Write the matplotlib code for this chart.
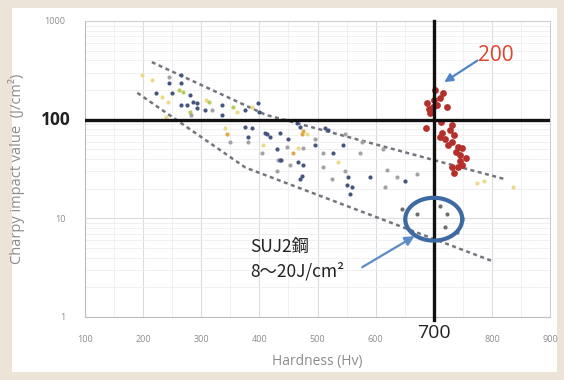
import numpy as np
import matplotlib
matplotlib.use("Agg")
import matplotlib.pyplot as plt
from matplotlib.patches import Rectangle
from matplotlib.ticker import FixedLocator, NullFormatter, MultipleLocator

plt.rcParams['font.family'] = ['Open Sans', 'DejaVu Sans']

# ---------------- data (Hardness Hv, Charpy J/cm2) ----------------
navy_hv = [245, 266, 266, 223, 250, 280, 285, 292, 276, 266, 293, 306, 335, 375, 397, 400,
           335, 375, 380, 388, 409, 413, 418, 435, 464, 470, 513, 518, 430, 449, 435, 438,
           495, 527, 544, 466, 475, 473, 470, 552, 551, 559, 556, 590, 651]
navy_cv = [236, 285, 236, 187, 187, 179, 152, 148, 142, 142, 132, 126, 142, 126, 148, 120,
           112, 85, 67, 83, 74, 71, 67, 74, 93, 85, 83, 79, 50, 63, 39, 39,
           56, 46, 56, 37, 35, 27, 25, 26, 22, 20.6, 17.5, 26, 24]

grey_hv = [245, 319, 283, 349, 380, 547, 447, 475, 495, 509, 573, 577, 613, 452, 509, 547,
           525, 620, 616, 432, 430, 404, 637, 672]
grey_cv = [272, 126, 112, 60, 60, 71, 53, 52, 63, 46, 46, 59, 50, 35, 33, 30,
           25, 31, 20.6, 39, 30, 46, 26, 28]

yellow_hv = [198, 216, 233, 242, 309, 361, 387, 240, 340, 482, 406, 466, 535, 775, 786, 836]
yellow_cv = [285, 253, 171, 152, 159, 120, 135, 107, 83, 71, 56, 52, 37, 23, 24, 21]

orange_hv = [344, 473, 475, 457]
orange_cv = [71, 71, 76, 46]

green_hv = [262, 268, 314, 280, 354]
green_cv = [201, 192, 152, 120, 135]

suj2_hv = [672, 711, 723, 720, 663, 646, 740]
suj2_cv = [11, 13.2, 11, 8.1, 7.2, 12.3, 7.2]

red_hv = [703, 716, 711, 689, 698, 694, 723, 686, 732, 715, 711, 720, 732, 725, 741,
          749, 755, 746, 732, 741, 734, 749, 700, 705, 692, 713, 728, 738, 745, 735]
red_cv = [200, 187, 167, 148, 135, 118, 135, 83, 89, 74, 66, 63, 60, 56, 53,
          52, 41, 44, 33, 33.5, 29, 35, 160, 140, 128, 95, 78, 47, 38, 70]

upper_hv = [215, 411, 824]
upper_cv = [383, 112, 24.8]
lower_hv = [190, 376, 800]
lower_cv = [187, 32.7, 3.7]

x_ticks = [100, 200, 300, 400, 500, 600, 700, 800, 900]
y_ticks = [1, 10, 100, 1000]

ell_center = (700, 9.8)
ell_halfwidth = 49      # Hv
ell_halfheight = 0.217  # decades

# ---------------- figure ----------------
fig = plt.figure(figsize=(5.64, 3.8), dpi=100, facecolor='#ece4d6')
fig.patches.append(Rectangle((12 / 564, 1 - 372 / 380), (557 - 12) / 564, (372 - 8) / 380,
                             transform=fig.transFigure, facecolor='white', edgecolor='none',
                             zorder=-10))
ax = fig.add_axes([85 / 564, 1 - 317 / 380, (550 - 85) / 564, (317 - 21) / 380])
ax.set_facecolor('white')
ax.set_yscale('log')
ax.set_xlim(100, 900)
ax.set_ylim(1, 1000)

ax.xaxis.set_major_locator(FixedLocator(x_ticks))
ax.xaxis.set_minor_locator(MultipleLocator(50))
ax.yaxis.set_major_locator(FixedLocator(y_ticks))
ax.yaxis.set_minor_locator(FixedLocator([m * d for d in [1, 10, 100] for m in range(2, 10)]))
ax.yaxis.set_minor_formatter(NullFormatter())

ax.grid(True, which='major', color='#dcdcdc', lw=0.8)
ax.grid(True, which='minor', color='#eeeeee', lw=0.6)
ax.set_axisbelow(True)
for s in ax.spines.values():
    s.set_color('#d0d0d0')
    s.set_linewidth(0.8)
ax.spines['bottom'].set_color('#bdbdbd')
ax.spines['left'].set_color('#bdbdbd')

ax.set_xticklabels(['' if v == 700 else str(v) for v in x_ticks])
ax.set_yticklabels(['' if v == 100 else str(v) for v in y_ticks])
ax.tick_params(axis='both', which='both', length=0, labelsize=6.5, labelcolor='#8c8c8c')
ax.tick_params(axis='x', pad=13)
ax.tick_params(axis='y', pad=14)

ax.set_xlabel('Hardness (Hv)', fontsize=10, color='#8c8c8c')
ax.xaxis.set_label_coords(0.5, -0.125)
ax.set_ylabel('Charpy impact value  (J/cm²)', fontsize=10.5, color='#8c8c8c')
ax.yaxis.set_label_coords(-0.128, 0.5)

# boundary dashed lines
dash = (0, (1.6, 1.4))
ax.plot(upper_hv, upper_cv, color='#72767e', lw=1.8, ls=dash, zorder=3)
ax.plot(lower_hv, lower_cv, color='#72767e', lw=1.8, ls=dash, zorder=3)

# scatter data
ax.scatter(yellow_hv, yellow_cv, s=9, color='#ecd98a', zorder=4, lw=0)
ax.scatter(orange_hv, orange_cv, s=9, color='#e2a84a', zorder=4, lw=0)
ax.scatter(green_hv, green_cv, s=9, color='#b8cb5c', zorder=4, lw=0)
ax.scatter(grey_hv, grey_cv, s=9, color='#a3a3a3', zorder=4, lw=0)
ax.scatter(navy_hv, navy_cv, s=9, color='#44557f', zorder=4, lw=0)
ax.scatter(suj2_hv, suj2_cv, s=9, color='#6e6e6e', zorder=4, lw=0)
ax.scatter(red_hv, red_cv, s=24, color='#b5302c', zorder=5, lw=0)

# thick reference lines
ax.axhline(100, color='#111111', lw=2.4, zorder=6)
ax.axvline(700, color='#111111', lw=2.4, zorder=6, ymin=-0.01, clip_on=False)

# ellipse around SUJ2 data
t = np.linspace(0, 2 * np.pi, 200)
ex = ell_center[0] + ell_halfwidth * np.cos(t)
ey = 10 ** (np.log10(ell_center[1]) + ell_halfheight * np.sin(t))
ax.plot(ex, ey, color='#3d6aa2', lw=3, zorder=7)

# big labels replacing 100 / 700 ticks
ax.text(-0.063, 100, '100', transform=ax.get_yaxis_transform(), ha='center', va='center',
        fontsize=12.5, fontweight='bold', color='#222222')
ax.text(700, -0.055, '700', transform=ax.get_xaxis_transform(), ha='center', va='center',
        fontsize=14, color='#222222')

# "200" annotation
ax.annotate('200', xy=(718, 240), xytext=(806, 450), fontsize=15, color='#e0442a',
            ha='center', va='center',
            arrowprops=dict(arrowstyle='-|>', color='#4f86c6', lw=1.6,
                            shrinkA=0, shrinkB=0, mutation_scale=12,
                            patchA=None, relpos=(0.0, 0.25)))

# SUJ2 annotation
ax.text(385, 5.1, 'SUJ2鋼', fontsize=12.5, color='#222222', ha='left', va='center',
        family=['Noto Sans CJK JP', 'DejaVu Sans'])
ax.text(385, 2.9, '8～20J/cm²', fontsize=12.5, color='#222222', ha='left', va='center',
        family=['Noto Sans CJK JP', 'DejaVu Sans'])
ax.annotate('', xy=(667, 6.6), xytext=(577, 3.2),
            arrowprops=dict(arrowstyle='-|>', color='#5b8cc8', lw=1.6,
                            shrinkA=0, shrinkB=0, mutation_scale=14))

fig.savefig('out.png', dpi=100, facecolor=fig.get_facecolor())
